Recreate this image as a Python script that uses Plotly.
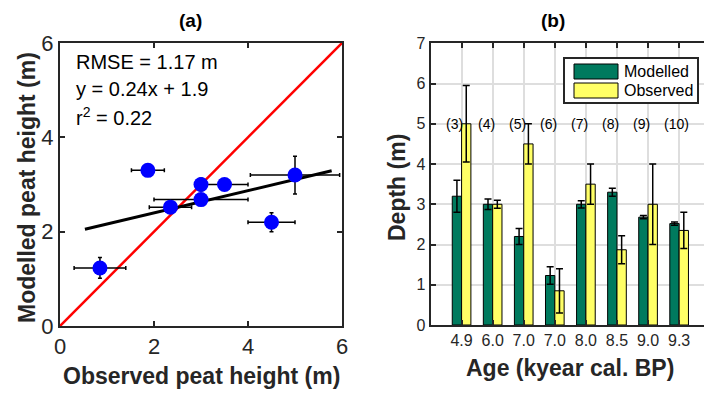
import plotly.graph_objects as go

# ---------------- data ----------------
site_labels = ["(3)", "(4)", "(5)", "(6)", "(7)", "(8)", "(9)", "(10)"]
age_labels = ["4.9", "6.0", "7.0", "7.0", "8.0", "8.5", "9.0", "9.3"]
modelled = [3.2, 3.0, 2.2, 1.23, 3.0, 3.3, 2.68, 2.52]
modelled_err = [0.4, 0.13, 0.2, 0.22, 0.09, 0.1, 0.04, 0.04]
observed = [5.0, 3.0, 4.5, 0.85, 3.5, 1.87, 3.0, 2.35]
observed_err = [0.95, 0.1, 0.5, 0.55, 0.5, 0.35, 1.0, 0.45]

one_to_one = [0, 6]
fit_x = [0.53, 5.78]
fit_y = [2.05, 3.29]
stats_text = ["RMSE = 1.17 m", "y = 0.24x + 1.9", "r<sup>2</sup> = 0.22"]
label_y = 5

# ---------------- layout helpers ----------------
W, H = 704, 394
def px(x):
    return x / W
def py(y):
    return 1 - y / H

FONT = "Liberation Sans, Arial, Helvetica, sans-serif"
AX = "#262626"
GREEN = "#007a5e"
YELLOW = "#ffff66"

fig = go.Figure()

# ---- panel (a) ----
fig.add_trace(go.Scatter(x=one_to_one, y=one_to_one, mode="lines",
                         line=dict(color="#ff0000", width=2.5),
                         xaxis="x", yaxis="y", showlegend=False))
fig.add_trace(go.Scatter(x=fit_x, y=fit_y, mode="lines",
                         line=dict(color="#000000", width=3),
                         xaxis="x", yaxis="y", showlegend=False))
fig.add_trace(go.Scatter(x=observed, y=modelled, mode="markers",
                         marker=dict(color="#0000ff", size=15),
                         error_x=dict(type="data", array=observed_err, color="#000000",
                                      thickness=1.5, width=2),
                         error_y=dict(type="data", array=modelled_err, color="#000000",
                                      thickness=1.5, width=2),
                         xaxis="x", yaxis="y", showlegend=False))

# ---- panel (b) ----
idx = list(range(len(age_labels)))
fig.add_trace(go.Bar(x=idx, y=modelled, name="Modelled",
                     marker=dict(color=GREEN, line=dict(color="#000000", width=1)),
                     error_y=dict(type="data", array=modelled_err, color="#000000",
                                  thickness=1.5, width=3.5),
                     xaxis="x2", yaxis="y2", showlegend=False))
fig.add_trace(go.Bar(x=idx, y=observed, name="Observed",
                     marker=dict(color=YELLOW, line=dict(color="#000000", width=1)),
                     error_y=dict(type="data", array=observed_err, color="#000000",
                                  thickness=1.5, width=3.5),
                     xaxis="x2", yaxis="y2", showlegend=False))

axis_common = dict(showline=True, linecolor=AX, linewidth=2, ticks="inside",
                   tickcolor=AX, tickwidth=1.5, ticklen=5, automargin=False,
                   zeroline=False)

fig.update_layout(
    width=W, height=H,
    margin=dict(l=0, r=0, t=0, b=0),
    paper_bgcolor="white", plot_bgcolor="white",
    font=dict(family=FONT, color=AX),
    barmode="group", bargap=0.4, bargroupgap=0,
    xaxis=dict(domain=[px(60), px(342)], range=[0, 6], tickvals=[0, 2, 4, 6],
               mirror="ticks", showgrid=False,
               tickfont=dict(size=22, color=AX), **axis_common),
    yaxis=dict(domain=[py(326), py(43)], range=[0, 6], tickvals=[0, 2, 4, 6],
               mirror="ticks", showgrid=False,
               tickfont=dict(size=22, color=AX), **axis_common),
    xaxis2=dict(domain=[px(430.5), 1.0], range=[-1, 7.8], tickvals=idx,
                ticktext=age_labels, mirror="ticks", showgrid=True,
                gridcolor="#dedede", gridwidth=2,
                tickfont=dict(size=16, color=AX), anchor="y2", **axis_common),
    yaxis2=dict(domain=[py(325), py(43.3)], range=[0, 7], dtick=1,
                mirror=False, showgrid=True, gridcolor="#dedede", gridwidth=2,
                tickfont=dict(size=16, color=AX), anchor="x2", **axis_common),
)

def note(text, x, y, size, color=AX, angle=0, xanchor="center", xref="paper", yref="paper"):
    return dict(text=text, x=x, y=y, xref=xref, yref=yref, xanchor=xanchor,
                yanchor="middle", showarrow=False, textangle=angle,
                font=dict(size=size, color=color))

ann = []
# titles
ann.append(note("<b>(a)</b>", px(190), py(21), 19, "#000000"))
ann.append(note("<b>(b)</b>", px(553), py(21), 19, "#000000"))
# axis titles
ann.append(note("<b>Observed peat height (m)</b>", px(201), py(376), 23))
ann.append(note("<b>Modelled peat height (m)</b>", px(27), py(188), 23, angle=-90))
ann.append(note("<b>Age (kyear cal. BP)</b>", px(570), py(368), 23))
ann.append(note("<b>Depth (m)</b>", px(397), py(188), 23, angle=-90))
# stats text
for i, t in enumerate(stats_text):
    ann.append(note(t, px(74), py(62 + 27 * i), 20, "#000000", xanchor="left"))
# site labels
for i, t in enumerate(site_labels):
    ann.append(note(t, i - 0.55, label_y, 14, "#000000", xanchor="left",
                    xref="x2", yref="y2"))
# legend text
ann.append(note("Modelled", px(622), py(71.5), 16, "#000000", xanchor="left"))
ann.append(note("Observed", px(622), py(90.5), 16, "#000000", xanchor="left"))
fig.update_layout(annotations=ann)

shapes = [
    dict(type="rect", xref="paper", yref="paper", x0=px(564), x1=px(698),
         y0=py(103), y1=py(58), line=dict(color=AX, width=2), fillcolor="white"),
    dict(type="rect", xref="paper", yref="paper", x0=px(574), x1=px(618),
         y0=py(79), y1=py(64), line=dict(color="#000000", width=1), fillcolor=GREEN),
    dict(type="rect", xref="paper", yref="paper", x0=px(574), x1=px(618),
         y0=py(98), y1=py(83), line=dict(color="#000000", width=1), fillcolor=YELLOW),
]
fig.update_layout(shapes=shapes)

fig.write_html("out.html", config={"displayModeBar": False},
               post_script="document.body.style.margin='0';document.body.style.overflow='hidden';")
